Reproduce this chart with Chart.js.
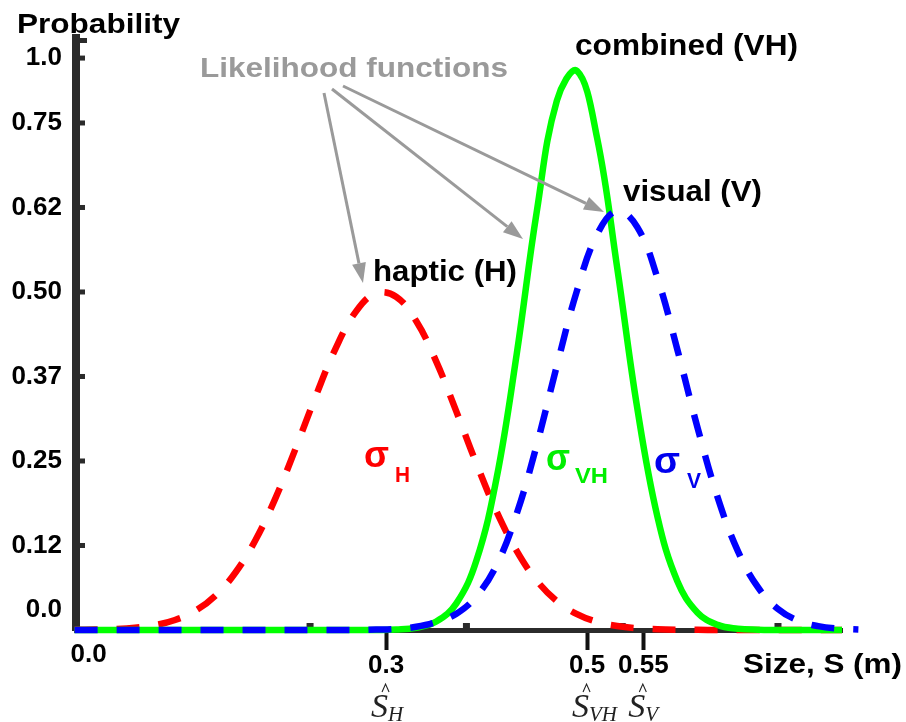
<!DOCTYPE html>
<html>
<head>
<meta charset="utf-8">
<script src="https://cdn.jsdelivr.net/npm/chart.js@4/dist/chart.umd.min.js"></script>
<style>
  html, body { margin: 0; padding: 0; background: #fff; }
  #wrap { width: 906px; height: 722px; position: relative; }
</style>
</head>
<body>
<div id="wrap"><canvas id="chart"></canvas></div>
<script>
// size axis (m), shared by the three likelihood curves
const sizes = [-0.01, 0.01, 0.03, 0.05, 0.07, 0.09, 0.11, 0.13, 0.15, 0.17,
  0.19, 0.21, 0.23, 0.25, 0.27, 0.29, 0.31, 0.33, 0.35, 0.37,
  0.39, 0.41, 0.43, 0.45, 0.47, 0.49, 0.51, 0.53, 0.55, 0.57,
  0.59, 0.61, 0.63, 0.65, 0.67, 0.69, 0.71, 0.73, 0.75, 0.77];

const haptic = [0.0002, 0.0006, 0.0014, 0.0033, 0.0072, 0.0148, 0.0282, 0.0506, 0.0847, 0.1328,
  0.1951, 0.2684, 0.3457, 0.417, 0.471, 0.498, 0.493, 0.457, 0.397, 0.323,
  0.246, 0.175, 0.117, 0.073, 0.0427, 0.0234, 0.012, 0.0058, 0.0026, 0.0011,
  0.0004, 0.0002, 0.0001, 0, 0, 0, 0, 0, 0, 0];

const combined = [0, 0, 0, 0, 0, 0, 0, 0, 0, 0,
  0, 0, 0, 0, 0, 0.0001, 0.0007, 0.0034, 0.0126, 0.0394,
  0.1031, 0.2246, 0.408, 0.619, 0.783, 0.827, 0.728, 0.536, 0.328, 0.168,
  0.0718, 0.0256, 0.0076, 0.0019, 0.0004, 0.0001, 0, 0, 0, 0];

const visual = [0, 0, 0, 0, 0, 0, 0, 0, 0, 0,
  0, 0, 0, 0, 0, 0.0006, 0.0017, 0.0047, 0.0117, 0.024,
  0.05, 0.096, 0.172, 0.274, 0.391, 0.502, 0.585, 0.620, 0.596, 0.521,
  0.414, 0.299, 0.196, 0.117, 0.0633, 0.0311, 0.0139, 0.0057, 0.0021, 0.0007];

// tick positions as they sit in the picture, and their labels
const yTickValues = [0.03, 0.125, 0.25, 0.375, 0.5, 0.625, 0.75, 0.846];
const yTickLabels = ["0.0", "0.12", "0.25", "0.37", "0.50", "0.62", "0.75", "1.0"];
const xTickValues = [0.004, 0.3, 0.5, 0.556];
const xTickLabels = ["0.0", "0.3", "0.5", "0.55"];
const xMinorTicks = [0.2244, 0.380, 0.535, 0.690];
const estimateSubs = ["H", "VH", "V"];

const AXIS = "#2b2b2b";
const FONT = "Liberation Sans";

function pts(vals) {
  return sizes.map((s, i) => ({ x: s, y: vals[i] }));
}

function fitText(ctx, txt, left, baseline, font, width, color) {
  ctx.save();
  ctx.font = font;
  const w = ctx.measureText(txt).width;
  ctx.translate(left, baseline);
  if (width) ctx.scale(width / w, 1);
  ctx.fillStyle = color;
  ctx.textBaseline = "alphabetic";
  ctx.textAlign = "left";
  ctx.fillText(txt, 0, 0);
  ctx.restore();
}

function arrow(ctx, x1, y1, x2, y2) {
  const ang = Math.atan2(y2 - y1, x2 - x1);
  const hl = 20, hw = 7;
  const bx = x2 - hl * Math.cos(ang), by = y2 - hl * Math.sin(ang);
  ctx.save();
  ctx.strokeStyle = "#9a9a9a";
  ctx.fillStyle = "#9a9a9a";
  ctx.lineWidth = 3;
  ctx.beginPath();
  ctx.moveTo(x1, y1);
  ctx.lineTo(bx, by);
  ctx.stroke();
  ctx.beginPath();
  ctx.moveTo(x2, y2);
  ctx.lineTo(bx + hw * Math.sin(ang), by - hw * Math.cos(ang));
  ctx.lineTo(bx - hw * Math.sin(ang), by + hw * Math.cos(ang));
  ctx.closePath();
  ctx.fill();
  ctx.restore();
}

const decorations = {
  id: "decorations",
  beforeDatasetsDraw(chart) {
    const ctx = chart.ctx;
    const xs = chart.scales.x, ys = chart.scales.y;
    const area = chart.chartArea;
    ctx.save();
    ctx.fillStyle = AXIS;
    // little marks inside the y axis
    yTickValues.forEach((v, i) => {
      if (i === 0) return;
      const py = ys.getPixelForValue(v);
      ctx.fillRect(area.left + 4, py - 2.5, 5, 5);
    });
    // hook at the top of the y axis
    ctx.fillRect(area.left - 4, area.top, 15, 5);
    // small bumps on the x axis
    xMinorTicks.forEach(v => {
      const px = xs.getPixelForValue(v);
      ctx.fillRect(px - 3.5, area.bottom - 7, 7, 5);
    });
    ctx.restore();
  },
  afterDraw(chart) {
    const ctx = chart.ctx;
    const xs = chart.scales.x;
    fitText(ctx, "Probability", 17, 33, `bold 28px "${FONT}"`, 163, "#000");
    fitText(ctx, "Likelihood functions", 200, 77, `bold 28px "${FONT}"`, 308, "#9a9a9a");
    fitText(ctx, "combined (VH)", 575, 55, `bold 30px "${FONT}"`, 223, "#000");
    fitText(ctx, "visual (V)", 623, 201, `bold 29px "${FONT}"`, 139, "#000");
    fitText(ctx, "haptic (H)", 373, 281, `bold 29px "${FONT}"`, 144, "#000");
    fitText(ctx, "Size, S (m)", 743, 673, `bold 28px "${FONT}"`, 159, "#000");

    arrow(ctx, 324, 93, 363, 283);
    arrow(ctx, 332, 89, 523, 239);
    arrow(ctx, 343, 86, 604, 212);

    // sigma labels
    fitText(ctx, "σ", 364, 467, `bold 37px "${FONT}"`, 25, "#ff0000");
    fitText(ctx, "H", 395, 482, `bold 22px "${FONT}"`, 15, "#ff0000");
    fitText(ctx, "σ", 546, 470, `bold 37px "${FONT}"`, 24, "#00ee00");
    fitText(ctx, "VH", 575, 483, `bold 22px "${FONT}"`, 33, "#00ee00");
    fitText(ctx, "σ", 654, 473, `bold 37px "${FONT}"`, 26, "#0000ee");
    fitText(ctx, "V", 687, 488, `bold 22px "${FONT}"`, 14, "#0000ee");

    // estimate labels under the x ticks
    xTickValues.slice(1).forEach((v, i) => {
      const px = xs.getPixelForValue(v);
      const sx = px - 15;
      fitText(ctx, "S", sx, 717, `italic 34px "Liberation Serif"`, null, "#222");
      fitText(ctx, estimateSubs[i], sx + 17, 721, `italic 21px "Liberation Serif"`, null, "#222");
      ctx.save();
      ctx.strokeStyle = "#222";
      ctx.lineWidth = 1.1;
      ctx.beginPath();
      ctx.moveTo(sx + 11, 692);
      ctx.lineTo(sx + 14.5, 684);
      ctx.lineTo(sx + 18, 692);
      ctx.stroke();
      ctx.restore();
    });
  }
};

const DASH = [23, 19];

new Chart(document.getElementById("chart"), {
  type: "line",
  data: {
    datasets: [
      {
        data: pts(visual),
        borderColor: "#0000ff",
        borderWidth: 6.5,
        borderDash: DASH,
        tension: 0.4,
        pointRadius: 0,
        clip: { left: 4, top: 10, right: 20, bottom: 8 },
        order: 0
      },
      {
        data: pts(combined),
        borderColor: "#00ff00",
        borderWidth: 6.5,
        tension: 0.4,
        pointRadius: 0,
        clip: { left: 4, top: 10, right: 0, bottom: 8 },
        order: 1
      },
      {
        data: pts(haptic),
        borderColor: "#ff0000",
        borderWidth: 6.5,
        borderDash: DASH,
        tension: 0.4,
        pointRadius: 0,
        clip: { left: 4, top: 10, right: 0, bottom: 8 },
        order: 2
      }
    ]
  },
  options: {
    responsive: true,
    maintainAspectRatio: false,
    animation: false,
    layout: { padding: { left: 0, top: 38, right: 64, bottom: 0 } },
    plugins: { legend: { display: false }, tooltip: { enabled: false } },
    scales: {
      x: {
        type: "linear",
        min: -0.0085,
        max: 0.7537,
        afterBuildTicks: s => { s.ticks = xTickValues.map(v => ({ value: v })); },
        afterFit: s => { s.height = 92; },
        border: { display: true, color: AXIS, width: 5 },
        grid: {
          display: true,
          drawOnChartArea: false,
          drawTicks: true,
          tickLength: 20,
          tickWidth: 4,
          tickColor: c => c.index === 0 ? "rgba(0,0,0,0)" : "#111"
        },
        ticks: {
          autoSkip: false,
          maxRotation: 0,
          padding: 0,
          color: "#000",
          font: c => ({ family: FONT, size: 26, weight: "bold", lineHeight: c.index === 0 ? "10px" : 1.2 }),
          callback: (v, i) => xTickLabels[i]
        }
      },
      y: {
        min: 0,
        max: 0.8757,
        afterBuildTicks: s => { s.ticks = yTickValues.map(v => ({ value: v })); },
        afterFit: s => { s.width = 76; },
        border: { display: true, color: AXIS, width: 8 },
        grid: { display: true, drawOnChartArea: false, drawTicks: false },
        ticks: {
          padding: 14,
          color: "#000",
          font: { family: FONT, size: 26, weight: "bold" },
          callback: (v, i) => yTickLabels[i]
        }
      }
    }
  },
  plugins: [decorations]
});
</script>
</body>
</html>
